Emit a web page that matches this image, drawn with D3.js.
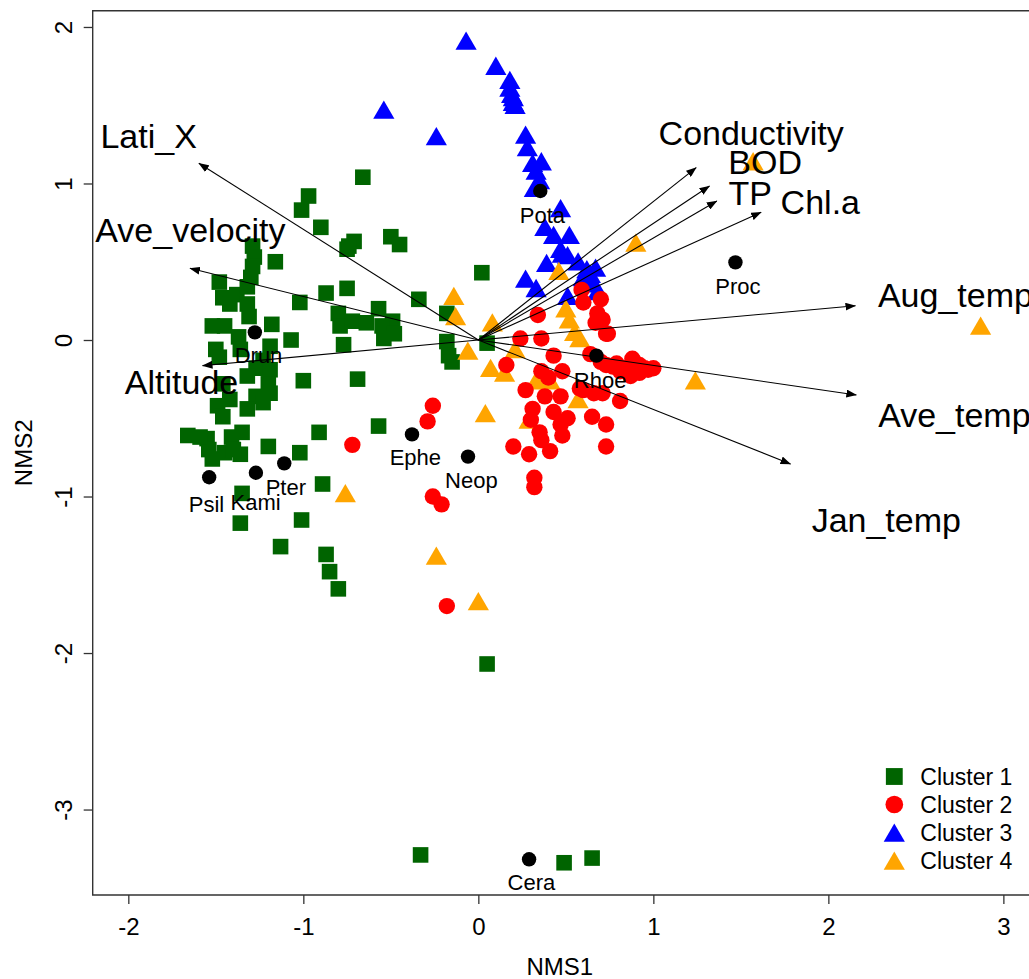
<html>

<head>
  <meta charset="utf-8">
  <script src="https://d3js.org/d3.v7.min.js"></script>
  <style>
    body { margin: 0; background: #fff; }
    text { font-family: "Liberation Sans", Arial, sans-serif; fill: black; }
    .arrow { stroke: black; stroke-width: 1.1px; fill: none; }
  </style>
</head>

<body>

  <svg id="nms" width="1029" height="979" style="background: #fff"></svg>

  <script>

    // ---- data (NMS scores) ----
    const cluster1 = [
      [-0.97, 0.92], [-1.01, 0.83], [-0.90, 0.72], [-0.75, 0.58], [-1.29, 0.60], [-1.28, 0.53], [-1.29, 0.47],
      [-1.30, 0.40], [-1.16, 0.50], [-1.48, 0.37], [-1.46, 0.27], [-1.38, 0.29], [-1.32, 0.34], [-1.32, 0.23],
      [-1.31, 0.15], [-1.42, 0.23], [-1.02, 0.24], [-0.87, 0.30], [-0.75, 0.33], [-0.80, 0.17], [-0.79, 0.09],
      [-1.52, 0.09], [-1.45, 0.09], [-1.37, 0.02], [-1.18, 0.10], [-1.07, 0.00], [-1.50, -0.06], [-1.48, -0.11],
      [-1.36, -0.06], [-1.19, -0.04], [-1.23, -0.13], [-1.27, -0.18], [-1.19, -0.19], [-1.32, -0.23], [-1.20, -0.28],
      [-1.46, -0.28], [-1.19, -0.34], [-1.27, -0.36], [-1.42, -0.38], [-1.49, -0.42], [-1.32, -0.44], [-1.23, -0.40],
      [-1.46, -0.49], [-1.00, -0.26], [-0.77, -0.03], [-1.66, -0.61], [-1.55, -0.63], [-1.35, -0.59], [-1.41, -0.62],
      [-1.54, -0.70], [-1.45, -0.72], [-1.36, -0.73], [-1.52, -0.76], [-1.20, -0.68], [-1.02, -0.72], [-0.91, -0.59],
      [-0.89, -0.92], [-1.35, -0.98], [-1.36, -1.17], [-1.01, -1.15], [-1.13, -1.32], [-0.87, -1.37], [-0.85, -1.48],
      [-0.80, -1.59], [-1.59, -0.62], [-1.40, -0.70], [-0.66, 1.04], [-0.50, 0.66], [-0.45, 0.61], [-0.71, 0.63],
      [-0.74, 0.60], [0.02, 0.43], [-0.34, 0.26], [-0.57, 0.20], [-0.18, 0.17], [-0.49, 0.12], [-0.72, 0.12],
      [-0.64, 0.11], [-0.55, 0.09], [-0.48, 0.04], [-0.54, 0.01], [-0.18, -0.01], [-0.17, -0.10], [-0.15, -0.14],
      [0.05, -0.02], [-0.69, -0.25], [-0.57, -0.55], [0.05, -2.07], [-0.33, -3.29], [0.49, -3.34], [0.65, -3.31]
    ];

    const cluster2 = [
      [0.59, 0.32], [0.60, 0.24], [0.70, 0.26], [0.34, 0.16], [0.68, 0.17], [0.71, 0.13], [0.74, 0.04],
      [0.24, 0.01], [0.36, 0.01], [0.43, -0.10], [0.64, -0.09], [0.88, -0.12], [0.73, -0.16], [0.77, -0.17],
      [0.81, -0.20], [0.87, -0.23], [0.92, -0.21], [0.97, -0.19], [0.92, -0.16], [0.16, -0.16], [0.36, -0.20],
      [0.40, -0.24], [0.48, -0.20], [0.27, -0.32], [0.38, -0.36], [0.47, -0.36], [0.60, -0.32], [0.71, -0.34],
      [0.81, -0.39], [0.31, -0.44], [0.43, -0.46], [0.51, -0.50], [0.65, -0.49], [0.30, -0.51], [0.47, -0.54],
      [0.73, -0.54], [0.35, -0.59], [0.48, -0.61], [0.36, -0.64], [0.20, -0.68], [0.29, -0.73], [0.41, -0.71],
      [0.73, -0.68], [0.32, -0.88], [0.32, -0.94], [-0.26, -0.42], [-0.29, -0.52], [-0.72, -0.67], [-0.26, -1.00],
      [-0.21, -1.05], [-0.18, -1.70], [0.58, -0.31], [0.66, -0.34], [0.89, -0.14], [1.00, -0.18], [0.67, 0.11],
      [0.73, 0.04], [0.70, -0.14], [0.84, -0.18], [0.95, -0.18], [0.79, -0.15]
    ];

    const cluster3 = [
      [-0.07, 1.91], [0.10, 1.75], [0.18, 1.66], [0.18, 1.61], [0.19, 1.57], [0.20, 1.55], [0.20, 1.52],
      [0.21, 1.50], [-0.54, 1.47], [-0.24, 1.30], [0.27, 1.31], [0.28, 1.23], [0.31, 1.13], [0.36, 1.14],
      [0.33, 1.08], [0.35, 1.02], [0.32, 0.97], [0.47, 0.84], [0.38, 0.72], [0.43, 0.67], [0.52, 0.67],
      [0.47, 0.58], [0.51, 0.54], [0.57, 0.50], [0.39, 0.49], [0.62, 0.45], [0.67, 0.46], [0.27, 0.39],
      [0.33, 0.33], [0.66, 0.36], [0.68, 0.31], [0.51, 0.28], [0.48, 0.55], [0.60, 0.40], [0.64, 0.42]
    ];

    const cluster4 = [
      [1.57, 1.14], [0.90, 0.62], [2.87, 0.09], [1.24, -0.26], [0.46, 0.44], [-0.14, 0.28], [-0.13, 0.15],
      [0.08, 0.11], [-0.06, -0.07], [0.07, -0.18], [0.15, -0.21], [0.21, -0.06], [0.04, -0.47], [0.33, -0.26],
      [0.41, -0.26], [0.57, -0.38], [0.50, 0.20], [0.52, 0.13], [0.55, 0.05], [0.58, 0.01], [-0.76, -0.98],
      [-0.24, -1.38], [0.00, -1.67], [0.29, -0.51]
    ];

    // environmental vectors: arrow tip and label centre
    const vectorNames = ["Lati_X", "Ave_velocity", "Altitude", "Conductivity", "BOD", "TP", "Chl.a", "Aug_temp", "Ave_temp", "Jan_temp"];
    const vectorEnds = [[-1.597, 1.129], [-1.648, 0.458], [-1.576, -0.164], [1.245, 1.101], [1.321, 0.984],
      [1.363, 0.888], [1.616, 0.816], [2.155, 0.219], [2.160, -0.351], [1.784, -0.792]];
    const vectorLabels = [[-1.884, 1.304], [-1.645, 0.703], [-1.696, -0.266], [1.559, 1.323], [1.639, 1.139],
      [1.553, 0.939], [1.954, 0.884], [2.726, 0.288], [2.720, -0.479], [2.331, -1.150]];

    // species scores and label centres
    const speciesNames = ["Pota", "Proc", "Drun", "Psil", "Kami", "Pter", "Ephe", "Neop", "Rhoe", "Cera"];
    const speciesPos = [[0.354, 0.952], [1.469, 0.496], [-1.277, 0.049], [-1.538, -0.877], [-1.271, -0.848],
      [-1.109, -0.788], [-0.379, -0.603], [-0.059, -0.745], [0.675, -0.100], [0.290, -3.318]];
    const speciesLabels = [[0.366, 0.799], [1.483, 0.347], [-1.256, -0.096], [-1.553, -1.048], [-1.273, -1.033],
      [-1.100, -0.937], [-0.360, -0.745], [-0.040, -0.895], [0.696, -0.256], [0.303, -3.461]];

    const xTicks = [-2, -1, 0, 1, 2, 3];
    const yTicks = [-3, -2, -1, 0, 1, 2];
    const xLim = [-2.2035, 3.135];
    const yLim = [-3.546, 2.104];
    const legendLabels = ["Cluster 1", "Cluster 2", "Cluster 3", "Cluster 4"];

    // ---- layout ----
    const svg = d3.select("#nms");
    const plot = { left: 92.7, right: 1027, top: 10.7, bottom: 895 };

    const x = d3.scaleLinear().domain(xLim).range([plot.left, plot.right]);
    const y = d3.scaleLinear().domain(yLim).range([plot.bottom, plot.top]);

    const colors = ["#006400", "#ff0000", "#0000ff", "#ffa500"];

    // symbol paths (pch 15, 16, 17)
    const squarePath = "M-7.8,-7.8H7.8V7.8H-7.8Z";
    const circlePath = d3.symbol(d3.symbolCircle, Math.PI * 8.2 * 8.2)();
    const trianglePath = "M0,-9.5L10.6,8.8L-10.6,8.8Z";
    const shapes = [squarePath, circlePath, trianglePath, trianglePath];

    // R prints a plain hyphen for negatives
    const tickText = d => String(d);

    svg.append("defs").append("marker")
      .attr("id", "head")
      .attr("markerUnits", "userSpaceOnUse")
      .attr("markerWidth", 11)
      .attr("markerHeight", 8)
      .attr("refX", 10)
      .attr("refY", 4)
      .attr("orient", "auto")
      .append("path")
      .attr("d", "M0,0L10.5,4L0,8Z")
      .attr("fill", "black");

    // ---- points: green, blue, orange, red ----
    const drawOrder = [0, 2, 3, 1];
    const clusters = [cluster1, cluster2, cluster3, cluster4];
    drawOrder.forEach(i => {
      svg.append("g").selectAll("path")
        .data(clusters[i])
        .join("path")
        .attr("d", shapes[i])
        .attr("transform", d => `translate(${x(d[0])},${y(d[1])})`)
        .attr("fill", colors[i]);
    });

    // ---- vectors ----
    svg.append("g").selectAll("line")
      .data(vectorEnds)
      .join("line")
      .attr("class", "arrow")
      .attr("x1", x(0))
      .attr("y1", y(0))
      .attr("x2", d => x(d[0]))
      .attr("y2", d => y(d[1]))
      .attr("marker-end", "url(#head)");

    svg.append("g").selectAll("text")
      .data(vectorNames)
      .join("text")
      .attr("x", (d, i) => x(vectorLabels[i][0]))
      .attr("y", (d, i) => y(vectorLabels[i][1]))
      .attr("text-anchor", "middle")
      .attr("dy", "0.36em")
      .style("font-size", "34px")
      .text(d => d);

    // ---- species ----
    svg.append("g").selectAll("circle")
      .data(speciesPos)
      .join("circle")
      .attr("cx", d => x(d[0]))
      .attr("cy", d => y(d[1]))
      .attr("r", 7.2)
      .attr("fill", "black");

    svg.append("g").selectAll("text")
      .data(speciesNames)
      .join("text")
      .attr("x", (d, i) => x(speciesLabels[i][0]))
      .attr("y", (d, i) => y(speciesLabels[i][1]))
      .attr("text-anchor", "middle")
      .attr("dy", "0.36em")
      .style("font-size", "22px")
      .text(d => d);

    // ---- box + axes ----
    svg.append("path")
      .attr("d", `M1040,${plot.top}H${plot.left}V${plot.bottom}H1040`)
      .attr("fill", "none")
      .attr("stroke", "#333")
      .attr("stroke-width", 1.4);

    const xAxis = svg.append("g")
      .attr("transform", `translate(0,${plot.bottom})`)
      .call(d3.axisBottom(x).tickValues(xTicks).tickSize(9).tickSizeOuter(0).tickPadding(13.5).tickFormat(tickText));
    xAxis.select(".domain").remove();
    xAxis.selectAll("line").attr("stroke", "#333").attr("stroke-width", 1.3);
    xAxis.selectAll("text")
      .attr("fill", "black")
      .style("font-size", "24px")
      .style("font-family", "'Liberation Sans', Arial, sans-serif");

    const yAxis = svg.append("g")
      .attr("transform", `translate(${plot.left},0)`)
      .call(d3.axisLeft(y).tickValues(yTicks).tickSize(9).tickSizeOuter(0).tickFormat(tickText));
    yAxis.select(".domain").remove();
    yAxis.selectAll("line").attr("stroke", "#333").attr("stroke-width", 1.3);
    yAxis.selectAll("text")
      .attr("x", null)
      .attr("dy", null)
      .attr("fill", "black")
      .attr("text-anchor", "middle")
      .attr("dominant-baseline", "central")
      .attr("transform", "translate(-29.4,0) rotate(-90)")
      .style("font-size", "24px")
      .style("font-family", "'Liberation Sans', Arial, sans-serif");

    svg.append("text")
      .attr("x", (plot.left + plot.right) / 2)
      .attr("y", 975)
      .attr("text-anchor", "middle")
      .style("font-size", "24px")
      .text("NMS1");

    svg.append("text")
      .attr("transform", `translate(23,${(plot.top + plot.bottom) / 2}) rotate(-90)`)
      .attr("text-anchor", "middle")
      .attr("dominant-baseline", "central")
      .style("font-size", "24px")
      .text("NMS2");

    // ---- legend ----
    const legend = svg.append("g").attr("transform", "translate(894.3,776.5)");
    const rows = legend.selectAll("g")
      .data(legendLabels)
      .join("g")
      .attr("transform", (d, i) => `translate(0,${i * 28})`);
    rows.append("path")
      .attr("d", (d, i) => shapes[i])
      .attr("fill", (d, i) => colors[i])
      .attr("transform", (d, i) => i >= 2 ? "translate(0,0.5)" : "scale(1.08)");
    rows.append("text")
      .attr("x", 26)
      .attr("dy", "0.36em")
      .style("font-size", "23px")
      .text(d => d);

  </script>

</body>

</html>
